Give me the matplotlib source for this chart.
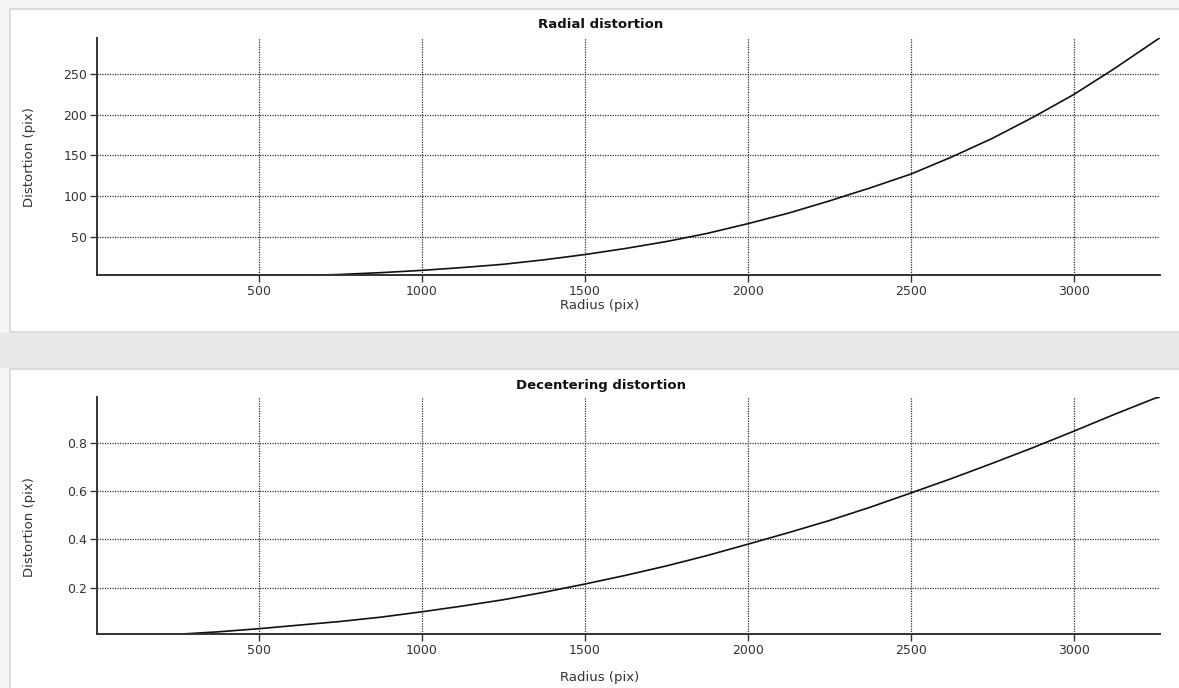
import matplotlib.pyplot as plt
from matplotlib.patches import Rectangle

# values
radius = [0, 125, 250, 375, 500, 625, 750, 875, 1000, 1125, 1250, 1375, 1500,
          1625, 1750, 1875, 2000, 2125, 2250, 2375, 2500, 2625, 2750, 2875,
          3000, 3125, 3250, 3265]
radial = [0, 0, 0.1, 0.4, 1.0, 2.0, 3.5, 5.7, 8.5, 12, 16, 21.5, 28,
          35.5, 44, 54, 66, 79, 94, 110, 127, 148, 171, 197,
          225, 257, 291, 295]
decentering = [0, 0.002, 0.007, 0.017, 0.03, 0.045, 0.06, 0.078, 0.10, 0.124,
               0.15, 0.181, 0.215, 0.251, 0.29, 0.333, 0.38, 0.428, 0.478,
               0.533, 0.592, 0.652, 0.715, 0.78, 0.848, 0.918, 0.985, 0.99]

x_ticks = [500, 1000, 1500, 2000, 2500, 3000]
radial_ticks = [50, 100, 150, 200, 250]
decentering_ticks = [0.2, 0.4, 0.6, 0.8]

W, H = 1179, 688
plt.rcParams["font.family"] = ["DejaVu Sans"]
plt.rcParams["font.size"] = 8

fig = plt.figure(figsize=(W / 100, H / 100), dpi=100)
fig.patch.set_facecolor("#f4f4f4")


def px(x0, y0, x1, y1):
    """Pixel box (top-left origin) -> figure-fraction rect."""
    return [x0 / W, 1 - y1 / H, (x1 - x0) / W, (y1 - y0) / H]


# panel backgrounds (Qt widget look), kept behind the axes
for (x0, y0, x1, y1) in [(10, 9, 1182, 332), (10, 369, 1182, 692)]:
    l, b, w, h = px(x0, y0, x1, y1)
    fig.patches.append(Rectangle((l, b), w, h, transform=fig.transFigure,
                                 facecolor="white", edgecolor="#d6d6d6", lw=1.2,
                                 zorder=-2))
l, b, w, h = px(0, 333, 1182, 368)
fig.patches.append(Rectangle((l, b), w, h, transform=fig.transFigure,
                             facecolor="#e9e9e9", edgecolor="none", zorder=-2))


def make_panel(rect, y, yticks, ylim, title, title_y, xlabel_y, ylabel_y):
    ax = fig.add_axes(px(*rect))
    ax.patch.set_alpha(0)
    ax.plot(radius, y, color="#111111", lw=1.2)
    ax.set_xlim(3, 3265)
    ax.set_ylim(*ylim)
    ax.set_xticks(x_ticks)
    ax.set_yticks(yticks)
    ax.set_yticklabels([f"{t:g}" for t in yticks])
    for s in ("top", "right"):
        ax.spines[s].set_visible(False)
    for s in ("left", "bottom"):
        ax.spines[s].set_color("#333333")
        ax.spines[s].set_linewidth(1.4)
    ax.tick_params(length=5, width=1, color="#333333", labelcolor="#333333",
                   labelsize=9, pad=2)
    ax.grid(True, color="#333333", lw=0.9, linestyle=(0, (1, 1)))
    fig.text(601 / W, 1 - title_y / H, title, ha="center", va="center",
             fontsize=9.5, fontweight="bold", color="#111111")
    fig.text(600 / W, 1 - xlabel_y / H, "Radius (pix)", ha="center", va="center",
             fontsize=9.5, color="#333333")
    fig.text(29 / W, 1 - ylabel_y / H, "Distortion (pix)", ha="center", va="center",
             rotation=90, fontsize=9.5, color="#333333")
    return ax


make_panel((97, 38, 1160, 275), radial, radial_ticks, (2.8, 294.7),
           "Radial distortion", 25, 305, 157)
make_panel((97, 397, 1160, 634), decentering, decentering_ticks, (0.008, 0.99),
           "Decentering distortion", 386, 678, 527)

fig.savefig("out.png", dpi=100, facecolor=fig.get_facecolor())
